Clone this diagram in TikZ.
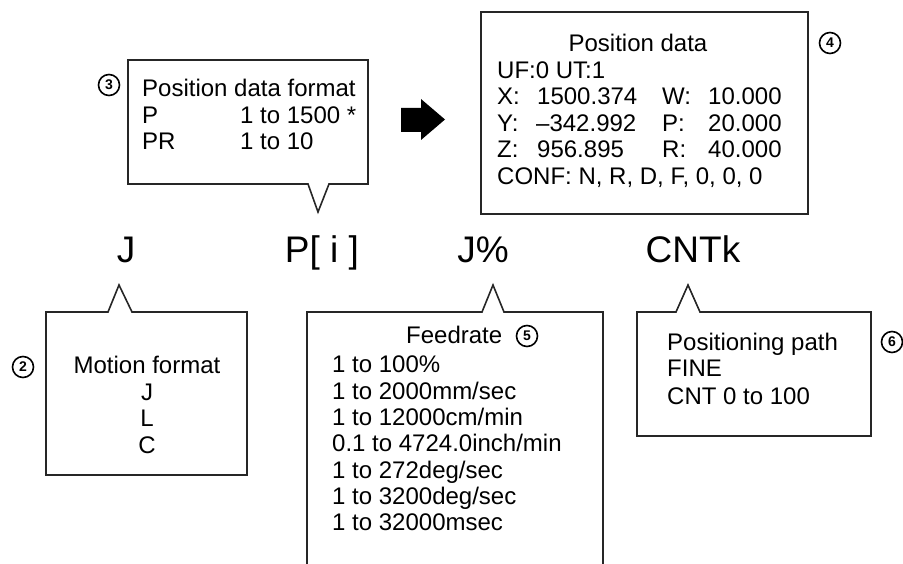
\documentclass[tikz,border=0pt]{standalone}
\usepackage{fontspec}
\setmainfont{Liberation Sans}
\begin{document}
\begin{tikzpicture}[x=1pt,y=-1pt,
  txt/.style={anchor=base west,inner sep=0pt,font=\fontsize{24}{26.6}\selectfont},
  ctxt/.style={anchor=base,inner sep=0pt,font=\fontsize{24}{26.6}\selectfont},
  cmd/.style={anchor=base,inner sep=0pt,font=\fontsize{37}{40}\selectfont},
  callout/.style={draw=black!85,line width=1.6pt,line join=miter},
  num/.style={draw,circle,line width=1.6pt,minimum size=21pt,inner sep=0pt,
    font=\fontsize{14}{14}\bfseries\selectfont}]
\useasboundingbox (0,0) rectangle (903,564);

% instruction elements
\node[cmd] (mJ)   at (126,263) {J};
\node[cmd] (mP)   at (322,263) {P[ i ]};
\node[cmd] (mV)   at (483,263) {J\%};
\node[cmd] (mCNT) at (693,263) {CNTk};

% callout 3: position data format (tail points down to P[i])
\coordinate (t3) at (318,212);
\draw[callout] (128,60) -- (368,60) -- (368,184) -- (329,184) -- (t3)
  -- (308,184) -- (128,184) -- cycle;
\node[num] (n3) at (109,85) {3};
\node[txt] (p3a) at (142,97) {Position data format};
\node[txt] (p3b) at (142,124) {P};
\node[txt] (p3c) at (240,124) {1 to 1500 *};
\node[txt] (p3d) at (142,150) {PR};
\node[txt] (p3e) at (240,150) {1 to 10};

% block arrow
\fill[black] (401,108) -- (421,108) -- (421,99) -- (445,119.5) -- (421,140)
  -- (421,132) -- (401,132) -- cycle;

% box 4: position data
\draw[callout] (481,12) rectangle (808,214);
\node[num] (n4) at (830,43) {4};
\node[ctxt] (p4a) at (638,52) {Position data};
\node[txt] (p4b) at (497,79) {UF:0 UT:1};
\node[txt] (p4x) at (497,105) {X:};
\node[txt] (p4xv) at (537,105) {1500.374};
\node[txt] (p4w) at (662,105) {W:};
\node[txt] (p4wv) at (708,105) {10.000};
\node[txt] (p4y) at (497,132) {Y:};
\node[txt] (p4yv) at (536,132) {–342.992};
\node[txt] (p4p) at (662,132) {P:};
\node[txt] (p4pv) at (708,132) {20.000};
\node[txt] (p4z) at (497,158) {Z:};
\node[txt] (p4zv) at (537,158) {956.895};
\node[txt] (p4r) at (662,158) {R:};
\node[txt] (p4rv) at (708,158) {40.000};
\node[txt] (p4c) at (497,185) {CONF: N, R, D, F, 0, 0, 0};

% callout 2: motion format (tail points up to J)
\coordinate (t2) at (119,285);
\draw[callout] (46,312) -- (108,312) -- (t2) -- (132,312) -- (247,312)
  -- (247,475) -- (46,475) -- cycle;
\node[num] (n2) at (23,367) {2};
\node[ctxt] (p2a) at (147,373) {Motion format};
\node[ctxt] (p2b) at (147,400) {J};
\node[ctxt] (p2c) at (147,426) {L};
\node[ctxt] (p2d) at (147,453) {C};

% callout 5: feedrate (open at the bottom)
\coordinate (t5) at (493,285);
\draw[callout] (307,566) -- (307,312) -- (482,312) -- (t5) -- (504,312)
  -- (603,312) -- (603,566);
\node[txt] (p5a) at (406,344) {Feedrate};
\node[num] (n5) at (527,336) {5};
\node[txt] (p5b) at (332,372) {1 to 100\%};
\node[txt] (p5c) at (332,399) {1 to 2000mm/sec};
\node[txt] (p5d) at (332,425) {1 to 12000cm/min};
\node[txt] (p5e) at (332,451) {0.1 to 4724.0inch/min};
\node[txt] (p5f) at (332,478) {1 to 272deg/sec};
\node[txt] (p5g) at (332,504) {1 to 3200deg/sec};
\node[txt] (p5h) at (332,530) {1 to 32000msec};

% callout 6: positioning path
\coordinate (t6) at (688,285);
\draw[callout] (637,312) -- (676,312) -- (t6) -- (700,312) -- (871,312)
  -- (871,436) -- (637,436) -- cycle;
\node[num] (n6) at (892,342) {6};
\node[txt] (p6a) at (667,351) {Positioning path};
\node[txt] (p6b) at (667,377) {FINE};
\node[txt] (p6c) at (667,404) {CNT 0 to 100};
\end{tikzpicture}
\end{document}
